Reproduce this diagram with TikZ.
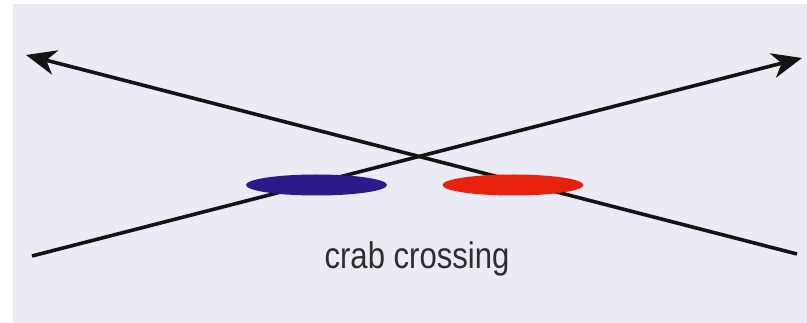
\documentclass[tikz,border=0pt]{standalone}
\usepackage{fontspec}
\newfontfamily\capfont[FakeStretch=0.84]{Liberation Sans}
\usetikzlibrary{arrows.meta,shapes.geometric}
\definecolor{bgc}{HTML}{EBEBF5}
\definecolor{beamblue}{HTML}{2B1A8A}
\definecolor{beamred}{HTML}{E8200E}
\definecolor{txt}{HTML}{2E2E2E}
\tikzset{
  beamline/.style={line width=3.6pt, draw=black!92, -{Stealth[length=30pt,width=25pt,inset=9pt]}},
  bunch/.style={ellipse, inner sep=0pt, minimum width=141pt, minimum height=21pt, draw=none},
  lbl/.style={font=\capfont\fontsize{37}{42}\selectfont, text=txt, inner sep=0pt}
}
\begin{document}
\begin{tikzpicture}[x=1pt,y=-1pt]
\useasboundingbox (0,0) rectangle (807,323);
\fill[white] (0,0) rectangle (807,323);
\fill[bgc] (13,4) rectangle (807,323);
\coordinate (a1) at (797,254);
\coordinate (a2) at (26,55);
\coordinate (b1) at (32,256);
\coordinate (b2) at (802,58);
\draw[beamline] (a1) -- (a2);
\draw[beamline] (b1) -- (b2);
\node[bunch, fill=beamblue] (blue) at (316.5,185) {};
\node[bunch, fill=beamred] (red) at (513,185) {};
\node[lbl, anchor=base] (cap) at (417,269) {crab crossing};
\end{tikzpicture}
\end{document}
